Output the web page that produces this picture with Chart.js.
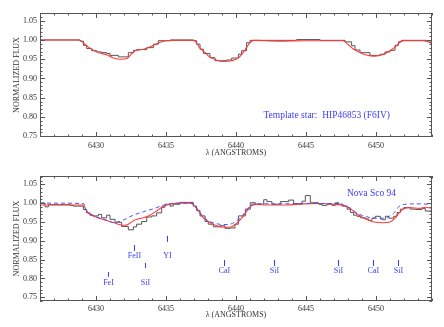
<!DOCTYPE html>
<html><head><meta charset="utf-8">
<script src="https://cdn.jsdelivr.net/npm/chart.js@4.4.1/dist/chart.umd.min.js"></script>
<style>
html,body{margin:0;padding:0;background:#fff;}
#wrap{position:relative;width:444px;height:327px;overflow:hidden;}
canvas{position:absolute;left:0;}
</style></head><body>
<div id="wrap">
<canvas id="c1" width="444" height="163" style="top:0px"></canvas>
<canvas id="c2" width="444" height="164" style="top:163px"></canvas>
</div>
<script>
// ---------- DATA ----------
// Top panel: template star HIP46853 (observed histogram = left bin edges)
const topObsWl = [6426.00,6428.86,6429.10,6429.33,6429.69,6430.05,6430.40,6430.76,6431.00,6431.60,6432.31,6432.67,6432.90,6433.62,6434.10,6434.45,6435.30,6436.95,6437.19,6437.43,6437.67,6438.14,6438.50,6439.33,6439.69,6440.17,6440.40,6440.76,6441.00,6444.33,6446.00,6447.79,6448.26,6448.50,6448.86,6449.57,6450.29,6450.64,6451.00,6451.36,6451.60,6451.83,6453.62,6453.86,6454.00];
const topObsFlux = [1.000,0.997,0.986,0.978,0.972,0.969,0.967,0.965,0.960,0.956,0.967,0.973,0.975,0.980,0.989,0.998,1.000,0.998,0.989,0.976,0.965,0.954,0.946,0.948,0.953,0.963,0.972,0.993,0.999,1.001,0.999,0.995,0.985,0.974,0.967,0.960,0.963,0.969,0.973,0.986,0.995,0.999,0.998,0.993,0.993];
// Top panel model (red)
const topFitWl = [6426.0,6428.8,6429.2,6429.6,6430.2,6430.8,6431.2,6431.8,6432.2,6432.5,6432.8,6433.4,6434.0,6434.5,6435.0,6435.5,6437.0,6437.4,6437.8,6438.1,6438.6,6439.1,6439.7,6440.2,6440.6,6441.0,6441.3,6443.0,6445.0,6447.6,6448.0,6448.4,6448.9,6449.3,6449.9,6450.5,6451.0,6451.5,6451.8,6452.1,6453.4,6454.0];
const topFitFlux = [1.000,1.000,0.989,0.978,0.967,0.961,0.954,0.950,0.952,0.962,0.972,0.976,0.984,0.993,0.998,0.999,0.999,0.980,0.967,0.956,0.948,0.944,0.946,0.954,0.972,0.993,0.999,0.997,0.998,0.998,0.989,0.976,0.967,0.961,0.958,0.962,0.972,0.986,0.997,0.998,0.998,0.991];

// Bottom panel: Nova Sco 94 observed histogram (left bin edges)
const novaObsWl = [6426.00,6426.36,6426.60,6428.14,6428.38,6429.10,6429.33,6429.57,6429.81,6430.17,6430.40,6430.76,6431.00,6431.36,6431.83,6432.31,6432.67,6432.90,6433.26,6433.62,6433.98,6434.33,6434.69,6434.93,6435.29,6435.52,6436.00,6436.95,6437.19,6437.43,6437.79,6438.02,6438.38,6438.86,6439.21,6439.57,6439.93,6440.17,6440.67,6441.02,6441.38,6441.98,6442.21,6442.57,6443.17,6443.76,6444.12,6444.48,6444.71,6444.95,6445.31,6445.90,6446.14,6446.50,6446.86,6447.10,6447.33,6447.57,6447.93,6448.17,6448.40,6448.64,6448.88,6449.24,6449.48,6449.71,6449.95,6450.31,6450.43,6450.67,6450.90,6451.26,6451.50,6451.74,6451.98,6452.45,6452.81,6453.29,6453.52,6454.00];
const novaObsFlux = [1.000,0.990,0.996,0.994,0.992,0.983,0.974,0.968,0.966,0.970,0.961,0.968,0.957,0.949,0.938,0.929,0.937,0.944,0.951,0.963,0.966,0.974,0.989,0.997,0.992,0.997,1.002,0.992,0.980,0.966,0.951,0.944,0.937,0.940,0.933,0.934,0.944,0.966,0.984,1.001,0.997,1.009,1.004,0.997,1.004,1.008,0.999,0.997,1.005,1.020,1.001,0.997,0.994,0.997,0.994,1.001,0.997,0.992,0.984,0.975,0.968,0.965,0.961,0.958,0.954,0.960,0.965,0.958,0.956,0.965,0.960,0.965,0.975,0.984,0.988,0.984,0.983,0.986,0.979,0.979];
// Bottom panel model (red, solid)
const novaFitWl = [6426.0,6429.1,6429.33,6429.81,6430.29,6430.76,6431.24,6431.71,6432.07,6432.31,6432.67,6432.90,6433.38,6433.86,6434.33,6434.81,6435.29,6436.0,6436.71,6436.95,6437.31,6437.67,6438.14,6438.62,6439.21,6439.57,6440.0,6440.36,6440.71,6441.07,6441.43,6442.38,6443.57,6444.76,6445.95,6447.14,6447.86,6448.21,6448.57,6449.05,6449.52,6450.0,6450.48,6450.95,6451.31,6451.67,6452.02,6452.38,6453.1,6453.57,6454.0];
const novaFitFlux = [0.995,0.995,0.978,0.966,0.959,0.954,0.9485,0.9425,0.941,0.944,0.953,0.957,0.961,0.968,0.979,0.9915,0.997,1.000,1.000,0.996,0.979,0.961,0.9485,0.940,0.936,0.936,0.945,0.958,0.975,0.992,0.9966,0.995,0.995,0.998,0.999,0.9966,0.992,0.984,0.973,0.962,0.954,0.949,0.948,0.949,0.958,0.975,0.986,0.988,0.986,0.989,0.986];
// Bottom panel second model (blue, dashed)
const novaDashWl = [6426.0,6429.1,6429.33,6429.81,6430.29,6430.76,6431.24,6431.95,6432.67,6433.38,6434.1,6434.8,6435.5,6436.7,6436.95,6437.31,6437.67,6438.14,6438.62,6439.21,6439.6,6440.0,6440.36,6440.71,6441.07,6441.43,6443.0,6445.0,6447.14,6447.5,6447.86,6448.21,6448.57,6449.05,6449.52,6450.0,6450.48,6450.95,6451.31,6451.67,6452.02,6453.0,6454.0];
const novaDashFlux = [1.000,0.999,0.980,0.967,0.960,0.955,0.948,0.955,0.968,0.977,0.985,0.994,0.999,1.000,0.997,0.981,0.963,0.951,0.945,0.943,0.944,0.952,0.962,0.979,0.995,0.9985,0.998,0.999,0.999,0.9985,0.990,0.986,0.975,0.967,0.962,0.960,0.960,0.965,0.975,0.992,0.9966,0.998,0.9966];

// Line identifications (bottom panel)
const lineNames = ['FeI','FeII','SiI','YI','CaI','SiI','SiI','CaI','SiI'];
const lineWl    = [6430.86,6432.74,6433.50,6435.05,6439.14,6442.70,6447.30,6449.80,6451.60];
const lineLabelFlux = [0.788,0.860,0.788,0.860,0.820,0.820,0.820,0.820,0.820];
const lineTickTop   = [0.817,0.889,0.841,0.913,0.849,0.849,0.849,0.849,0.849];
const lineTickBot   = [0.804,0.873,0.828,0.897,0.833,0.833,0.833,0.833,0.833];

// Axis tick settings
const xMajor = 5, xMinor = 1, yMajor = 0.05, yMinorHundredths = 1;

// ---------- HELPERS ----------
const pts = (xs, ys) => xs.map((v, i) => ({x: v, y: ys[i]}));
const SERIF = "'Liberation Serif','DejaVu Serif',serif";
const FRAME = '#555';
const BLUE = '#3a3aff';

const framePlugin = {
  id: 'frame',
  afterDatasetsDraw(chart) {
    const {ctx, chartArea: a, scales: {x, y}} = chart;
    ctx.save();
    ctx.strokeStyle = FRAME; ctx.lineWidth = 1;
    ctx.strokeRect(Math.round(a.left) + 0.5, Math.round(a.top) + 0.5,
                   Math.round(a.right - a.left) - 1, Math.round(a.bottom - a.top) - 1);
    ctx.beginPath();
    for (let v = Math.ceil(x.min / xMinor) * xMinor; v <= x.max; v += xMinor) {
      const px = Math.round(x.getPixelForValue(v)) + 0.5;
      const len = (Math.abs(v / xMajor - Math.round(v / xMajor)) < 1e-6) ? 5 : 2.5;
      ctx.moveTo(px, a.bottom); ctx.lineTo(px, a.bottom - len);
      ctx.moveTo(px, a.top); ctx.lineTo(px, a.top + len);
    }
    const k0 = Math.ceil(y.min * 100), k1 = Math.floor(y.max * 100);
    for (let k = k0; k <= k1; k += yMinorHundredths) {
      const py = Math.round(y.getPixelForValue(k / 100)) + 0.5;
      const len = (k % 5 === 0) ? 5 : 2.5;
      ctx.moveTo(a.left, py); ctx.lineTo(a.left + len, py);
      ctx.moveTo(a.right, py); ctx.lineTo(a.right - len, py);
    }
    ctx.stroke();
    ctx.restore();
  }
};

function makeOptions(yMin, yMax, titleBottomPad, tickPad, textDraw) {
  return {
    responsive: false, animation: false, events: [],
    layout: {padding: {left: 0, right: 12, top: 13, bottom: 0}},
    plugins: {legend: {display: false}, tooltip: {enabled: false}},
    elements: {point: {radius: 0}},
    scales: {
      x: {
        type: 'linear', min: 6426, max: 6454,
        grid: {display: false, drawTicks: false, tickLength: 0}, border: {display: false},
        ticks: {stepSize: xMajor, includeBounds: false, autoSkip: false, maxRotation: 0,
                padding: tickPad, color: '#333', font: {family: SERIF, size: 8},
                callback: v => String(v)},
        title: {display: true, text: 'λ (ANGSTROMS)', color: '#333',
                font: {family: SERIF, size: 8}, padding: {top: 0, bottom: titleBottomPad}},
        afterFit: s => { s.height = 26; }
      },
      y: {
        type: 'linear', min: yMin, max: yMax,
        grid: {display: false, drawTicks: false, tickLength: 0}, border: {display: false},
        ticks: {stepSize: yMajor, includeBounds: false, padding: 3, color: '#333',
                font: {family: SERIF, size: 8}, callback: v => Number(v).toFixed(2)},
        title: {display: true, text: 'NORMALIZED FLUX', color: '#333',
                font: {family: SERIF, size: 8}, padding: {top: 12, bottom: 0}},
        afterFit: s => { s.width = 40; }
      }
    }
  };
}

// ---------- TOP CHART ----------
const topText = {
  id: 'topText',
  afterDatasetsDraw(chart) {
    const {ctx, scales: {x, y}} = chart;
    ctx.save();
    ctx.fillStyle = BLUE; ctx.font = "9.5px " + SERIF;
    ctx.textAlign = 'center'; ctx.textBaseline = 'middle';
    ctx.fillText('Template star:  HIP46853 (F6IV)', x.getPixelForValue(6446.48), y.getPixelForValue(0.805));
    ctx.restore();
  }
};

new Chart(document.getElementById('c1'), {
  type: 'line',
  data: {datasets: [
    {data: pts(topFitWl, topFitFlux), borderColor: '#ff3a3a', borderWidth: 1.1,
     cubicInterpolationMode: 'monotone', order: 1},
    {data: pts(topObsWl, topObsFlux), borderColor: '#555', borderWidth: 1,
     stepped: true, order: 2}
  ]},
  options: makeOptions(0.748, 1.07, 5, 4),
  plugins: [framePlugin, topText]
});

// ---------- BOTTOM CHART ----------
const botText = {
  id: 'botText',
  afterDatasetsDraw(chart) {
    const {ctx, scales: {x, y}} = chart;
    ctx.save();
    ctx.fillStyle = BLUE; ctx.strokeStyle = BLUE; ctx.lineWidth = 1;
    ctx.textAlign = 'center'; ctx.textBaseline = 'middle';
    ctx.font = "9.5px " + SERIF;
    ctx.fillText('Nova Sco 94', x.getPixelForValue(6449.68), y.getPixelForValue(1.026));
    ctx.font = "8px " + SERIF;
    ctx.beginPath();
    lineNames.forEach((n, i) => {
      const px = Math.round(x.getPixelForValue(lineWl[i])) + 0.5;
      ctx.moveTo(px, y.getPixelForValue(lineTickTop[i]));
      ctx.lineTo(px, y.getPixelForValue(lineTickBot[i]));
      ctx.fillText(n, px, y.getPixelForValue(lineLabelFlux[i]));
    });
    ctx.stroke();
    ctx.restore();
  }
};

new Chart(document.getElementById('c2'), {
  type: 'line',
  data: {datasets: [
    {data: pts(novaDashWl, novaDashFlux), borderColor: '#5050ff', borderWidth: 1,
     borderDash: [4, 3], cubicInterpolationMode: 'monotone', order: 1},
    {data: pts(novaFitWl, novaFitFlux), borderColor: '#ff3a3a', borderWidth: 1.1,
     cubicInterpolationMode: 'monotone', order: 2},
    {data: pts(novaObsWl, novaObsFlux), borderColor: '#555', borderWidth: 1,
     stepped: true, order: 3}
  ]},
  options: makeOptions(0.74, 1.072, 7, 3),
  plugins: [framePlugin, botText]
});
</script>
</body></html>
